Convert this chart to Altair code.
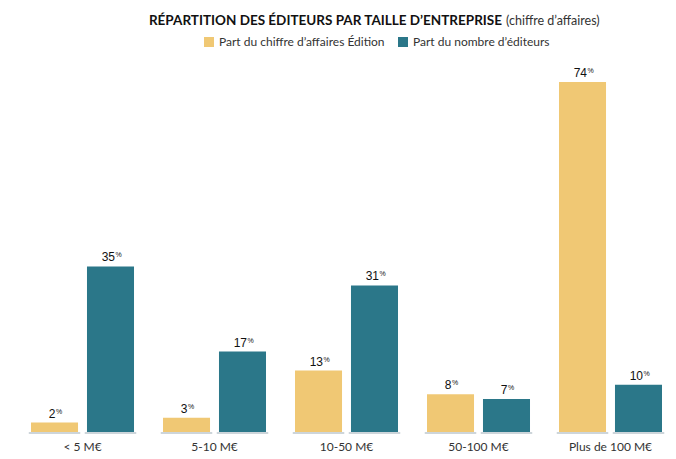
import altair as alt
import pandas as pd

categories = ["< 5 M€", "5-10 M€", "10-50 M€", "50-100 M€", "Plus de 100 M€"]
series = ["Part du chiffre d’affaires Édition", "Part du nombre d’éditeurs"]
part_ca = [2, 3, 13, 8, 74]
part_nb = [35, 17, 31, 7, 10]
colors = ["#f0c874", "#2b7789"]

rows = []
for c, a, b in zip(categories, part_ca, part_nb):
    rows.append({"cat": c, "serie": series[0], "val": a})
    rows.append({"cat": c, "serie": series[1], "val": b})
df = pd.DataFrame(rows)

yscale = alt.Scale(domain=[0, 78.44], nice=False)
x = alt.X("cat:N", sort=categories,
          scale=alt.Scale(paddingInner=0.2197, paddingOuter=0.1326, align=0.743),
          axis=alt.Axis(title=None, domain=False, ticks=False, labelAngle=0,
                        labelFont="Lato", labelFontSize=12, labelColor="#333333",
                        labelPadding=9))
xo = alt.XOffset("serie:N", sort=series,
                 scale=alt.Scale(paddingInner=0.16, paddingOuter=0))
y = alt.Y("val:Q", scale=yscale, axis=None)

base = alt.Chart(df)

bars = base.mark_bar().encode(
    x=x, xOffset=xo, y=y,
    color=alt.Color("serie:N", sort=series,
                    scale=alt.Scale(domain=series, range=colors),
                    legend=alt.Legend(title=None, orient="none", direction="horizontal",
                                      legendX=198, legendY=-25,
                                      symbolType="square", symbolSize=100,
                                      symbolStrokeWidth=0, labelLimit=400,
                                      labelFont="Lato", labelFontSize=12,
                                      labelColor="#333333", columnPadding=12,
                                      symbolOpacity=1)),
)

def baseline(serie, shift):
    return base.transform_filter(alt.datum.serie == serie).transform_calculate(
        base_y="-0.42").mark_bar(
        color="#cdd5da", width=51.5, xOffset=shift).encode(
        x=x, xOffset=xo, y=alt.Y("base_y:Q", scale=yscale, axis=None))

single = base.transform_filter("datum.val < 10")
double = base.transform_filter("datum.val >= 10")

def labels(src, split):
    num = src.mark_text(align="right", baseline="alphabetic", dx=split, dy=-5,
                        font="Liberation Sans", fontSize=12, color="#111111").encode(
        x=x, xOffset=xo, y=y, text=alt.Text("val:Q"))
    pct = src.mark_text(align="left", baseline="alphabetic", dx=split + 0.5, dy=-9,
                        font="Liberation Sans", fontSize=7, color="#111111").encode(
        x=x, xOffset=xo, y=y, text=alt.value("%"))
    return [num, pct]

# title anchored on the split point between its bold and regular parts
anchor = base.transform_filter(
    (alt.datum.cat == categories[3]) & (alt.datum.serie == series[1])
).transform_calculate(title_y="86.05", top_y="90.07")
ty = alt.Y("title_y:Q", scale=yscale, axis=None)
title_bold = anchor.mark_text(
    align="right", baseline="alphabetic", dx=-4.5, font="Lato", fontWeight="bold",
    fontSize=13.5, color="#111111").encode(
    x=x, xOffset=xo, y=ty,
    text=alt.value("RÉPARTITION DES ÉDITEURS PAR TAILLE D’ENTREPRISE"))
title_norm = anchor.mark_text(
    align="left", baseline="alphabetic", dx=-0.5, font="Lato", fontSize=12.5,
    color="#333333").encode(
    x=x, xOffset=xo, y=ty,
    text=alt.value("(chiffre d’affaires)"))
top_margin = anchor.mark_text(
    align="left", baseline="top", fontSize=10, opacity=0).encode(
    x=x, xOffset=xo, y=alt.Y("top_y:Q", scale=yscale, axis=None),
    text=alt.value("."))

chart = alt.layer(
    bars, baseline(series[0], 2.25), baseline(series[1], -2.25),
    *labels(single, 1), *labels(double, 4.5), title_bold, title_norm, top_margin
).properties(
    width=666, height=371,
).configure_view(stroke=None)

chart.save("out.html", embed_options={"renderer": "svg", "actions": False})
